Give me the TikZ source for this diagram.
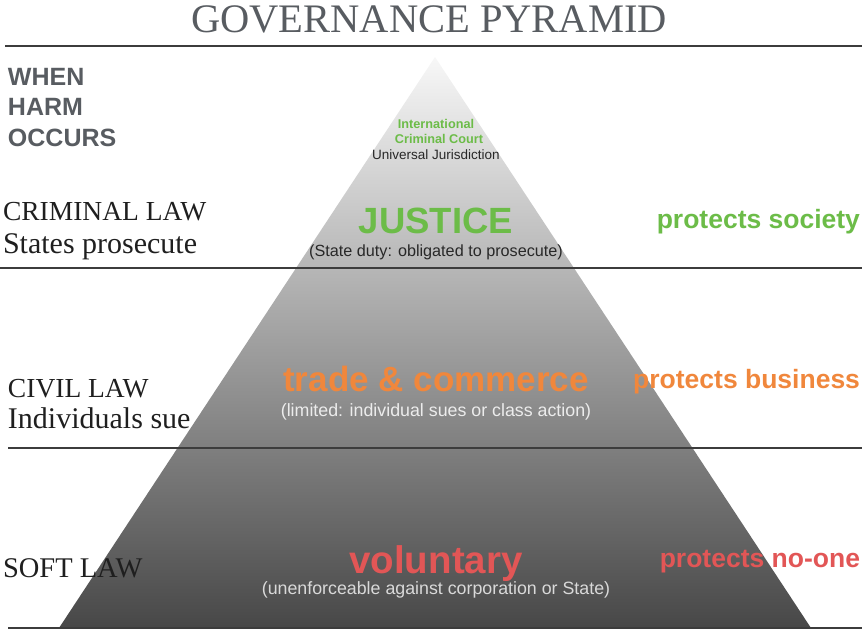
\documentclass[tikz,border=0pt]{standalone}
\usepackage{fontspec}
\setmainfont{Liberation Serif}
\newfontfamily\sansf{Liberation Sans}
\definecolor{titlegray}{RGB}{88,92,97}
\definecolor{rulegray}{RGB}{60,60,60}
\definecolor{lawgreen}{RGB}{108,188,72}
\definecolor{laworange}{RGB}{240,135,60}
\definecolor{lawred}{RGB}{226,86,86}
\definecolor{darktxt}{RGB}{40,40,40}
\definecolor{lighttxt}{RGB}{236,236,236}
\newcommand{\fs}[1]{\fontsize{#1}{#1}\selectfont}
\tikzset{
  txt/.style={inner sep=0pt, outer sep=0pt},
  lefttxt/.style={txt, anchor=base west, text=black!88, font=\fs{27.5}},
  righttxt/.style={txt, anchor=base east, font=\sansf\bfseries\fs{26.5}},
  midtxt/.style={txt, anchor=base},
  rulel/.style={draw=rulegray, line width=1.5pt}
}
\begin{document}
\begin{tikzpicture}[x=1pt,y=-1pt]
\useasboundingbox (0,0) rectangle (864,630);
% pyramid
\coordinate (apex) at (435,57);
\coordinate (bl) at (59,628);
\coordinate (br) at (811,628);
\shade[top color=black!3, bottom color=black!72] (apex) -- (br) -- (bl) -- cycle;
% rules
\coordinate (r0a) at (5,46);   \coordinate (r0b) at (862,46);
\coordinate (r1a) at (0,268);  \coordinate (r1b) at (862,268);
\coordinate (r2a) at (8,448);  \coordinate (r2b) at (862,448);
\coordinate (r3a) at (8,628);  \coordinate (r3b) at (862,628);
\draw[rulel] (r0a) -- (r0b);
\draw[rulel] (r1a) -- (r1b);
\draw[rulel] (r2a) -- (r2b);
\draw[rulel] (r3a) -- (r3b);
% title
\node[midtxt, text=titlegray, font=\fs{40.5}] (title) at (429,32) {GOVERNANCE PYRAMID};
% when harm occurs
\node[txt, anchor=base west, text=titlegray, font=\sansf\bfseries\fs{25}] (when) at (8,85) {WHEN};
\node[txt, anchor=base west, text=titlegray, font=\sansf\bfseries\fs{25}] (harm) at (8,115) {HARM};
\node[txt, anchor=base west, text=titlegray, font=\sansf\bfseries\fs{25}] (occurs) at (8,146) {OCCURS};
% left labels
\node[lefttxt] (crim) at (3,220) {CRIMINAL LAW};
\node[lefttxt, font=\fs{30}] (states) at (3,253) {States prosecute};
\node[lefttxt] (civil) at (8,397) {CIVIL LAW};
\node[lefttxt, font=\fs{30}] (indiv) at (8,428) {Individuals sue};
\node[lefttxt, font=\fs{28.5}] (soft) at (3,577) {SOFT LAW};
% top of pyramid
\node[midtxt, text=lawgreen, font=\sansf\bfseries\fs{12.7}] (icc1) at (436,128) {International};
\node[midtxt, text=lawgreen, font=\sansf\bfseries\fs{12.7}] (icc2) at (439,143) {Criminal Court};
\node[midtxt, text=darktxt, font=\sansf\fs{13.5}] (univ) at (436,159) {Universal Jurisdiction};
% justice
\node[midtxt, text=lawgreen, font=\sansf\bfseries\fs{36.5}] (justice) at (436,233) {JUSTICE};
\node[midtxt, text=darktxt, font=\sansf\fs{16.2}] (stateduty) at (436,256) {(State duty: obligated to prosecute)};
\node[righttxt, text=lawgreen] (psoc) at (860,228) {protects society};
% trade
\node[midtxt, text=laworange, font=\sansf\bfseries\fs{35}] (trade) at (436,391) {trade \& commerce};
\node[midtxt, text=lighttxt, font=\sansf\fs{17.8}] (limited) at (436,416) {(limited: individual sues or class action)};
\node[righttxt, text=laworange] (pbus) at (860,388) {protects business};
% voluntary
\node[midtxt, text=lawred, font=\sansf\bfseries\fs{38.5}] (vol) at (436,573) {voluntary};
\node[midtxt, text=lighttxt!92!black, font=\sansf\fs{17.8}] (unenf) at (436,594) {(unenforceable against corporation or State)};
\node[righttxt, text=lawred] (pno) at (860,567) {protects no-one};
\end{tikzpicture}
\end{document}
